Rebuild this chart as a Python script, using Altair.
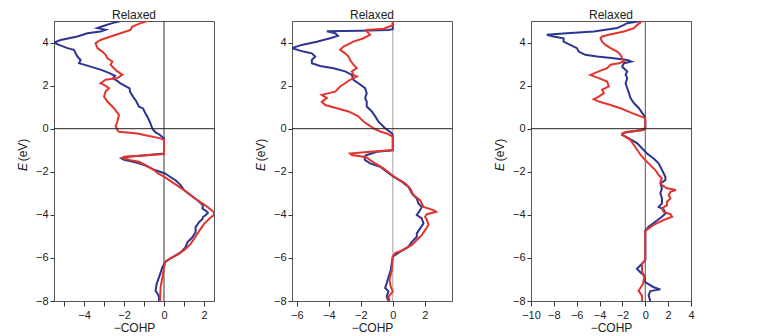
import altair as alt
import pandas as pd

# ---------------- data ----------------
# Panel 1
p1_blue_E = [5.0, 4.9, 4.78, 4.67, 4.59, 4.51, 4.43, 4.28, 4.12, 4.0, 3.89, 3.74, 3.66, 3.5, 3.35, 3.19, 3.04,
             2.88, 2.72, 2.57, 2.45, 2.34, 2.2, 2.11, 1.87, 1.72, 1.49, 1.3, 1.02, 0.94, 0.75, 0.56, 0.3, 0.1, 0.0,
             -0.15, -0.29, -0.45, -0.8, -1.15, -1.22, -1.3, -1.38, -1.45, -1.52, -1.6, -1.7, -1.92, -2.08, -2.23,
             -2.39, -2.62, -2.85, -3.1, -3.32, -3.55, -3.71, -3.8, -3.9, -4.0, -4.1, -4.19, -4.34, -4.57, -4.81,
             -5.04, -5.27, -5.5, -5.74, -5.97, -6.17, -6.43, -6.9, -7.21, -7.52, -7.7, -7.83, -8.0]
p1_blue_v = [-2.17, -2.58, -3.0, -3.33, -2.92, -3.17, -3.83, -4.33, -5.17, -5.5, -5.25, -4.83, -4.5, -4.42, -4.33,
             -4.17, -4.25, -3.67, -3.1, -2.7, -2.45, -2.55, -2.3, -2.2, -1.72, -1.7, -1.55, -1.4, -1.25, -1.05,
             -0.95, -0.83, -0.7, -0.62, -0.58, -0.45, -0.2, 0.0, 0.0, 0.0, -0.8, -1.8, -2.13, -2.0, -1.6, -1.3,
             -0.95, -0.45, 0.05, 0.3, 0.58, 0.83, 1.0, 1.35, 1.67, 1.95, 1.92, 2.08, 2.2, 2.1, 1.95, 1.92, 1.75,
             1.58, 1.58, 1.42, 1.17, 1.08, 0.83, 0.42, 0.08, -0.08, -0.25, -0.37, -0.42, -0.3, -0.25, -0.25]
p1_red_E = [5.0, 4.9, 4.74, 4.59, 4.43, 4.28, 4.12, 3.97, 3.74, 3.58, 3.43, 3.27, 3.12, 2.97, 2.81, 2.66, 2.5,
            2.35, 2.27, 2.11, 2.04, 1.88, 1.72, 1.49, 1.26, 0.95, 0.64, 0.33, 0.1, -0.06, -0.14, -0.22, -0.29,
            -0.45, -0.53, -0.9, -1.18, -1.24, -1.3, -1.35, -1.46, -1.53, -1.69, -1.92, -2.08, -2.23, -2.54, -2.85,
            -3.32, -3.63, -3.88, -4.0, -4.19, -4.42, -4.65, -4.88, -5.12, -5.35, -5.58, -5.81, -6.05, -6.17,
            -6.43, -6.9, -7.36, -8.0]
p1_red_v = [-0.83, -1.17, -1.58, -1.67, -2.17, -2.67, -3.17, -3.42, -3.33, -3.08, -2.92, -2.83, -2.58, -2.67,
            -2.5, -2.33, -2.08, -2.33, -2.92, -3.17, -3.0, -2.75, -2.92, -3.0, -2.83, -2.5, -2.25, -2.33, -2.42,
            -2.33, -2.25, -1.33, -1.0, -0.17, 0.0, 0.0, 0.0, -1.0, -2.0, -2.08, -1.67, -1.25, -0.92, -0.5, -0.3,
            0.0, 0.5, 1.0, 1.67, 2.17, 2.5, 2.5, 2.25, 2.0, 1.83, 1.67, 1.5, 1.33, 1.08, 0.75, 0.25, 0.08, 0.0,
            -0.08, -0.17, -0.2]

# Panel 2
p2_blue_E = [5.0, 4.62, 4.58, 4.55, 4.52, 4.43, 4.31, 4.2, 4.04, 3.89, 3.74, 3.58, 3.5, 3.35, 3.19, 3.04, 2.91,
             2.81, 2.66, 2.5, 2.27, 2.11, 1.88, 1.65, 1.42, 1.26, 1.03, 0.8, 0.57, 0.33, 0.02, -0.21, -0.3, -1.0,
             -1.07, -1.22, -1.3, -1.46, -1.61, -1.77, -2.0, -2.23, -2.46, -2.7, -3.0, -3.24, -3.47, -3.63, -3.78,
             -4.01, -4.16, -4.39, -4.63, -4.86, -5.02, -5.25, -5.48, -5.71, -5.94, -6.56, -7.17, -7.4, -7.55,
             -7.8, -8.0]
p2_blue_v = [0.0, 0.0, -0.3, -2.0, -4.12, -3.6, -3.43, -3.92, -4.75, -5.69, -6.3, -5.58, -5.06, -4.85, -5.06,
             -5.06, -4.54, -3.71, -2.98, -2.56, -2.46, -2.15, -1.73, -1.63, -1.73, -1.63, -1.63, -1.31, -1.1, -0.9,
             -0.48, -0.06, 0.0, 0.0, -1.0, -1.63, -1.79, -1.73, -1.42, -0.79, -0.38, 0.04, 0.56, 0.98, 1.19, 1.5,
             1.6, 1.81, 1.71, 1.5, 1.81, 1.92, 1.71, 1.5, 1.5, 1.19, 0.98, 0.46, 0.0, -0.13, -0.38, -0.48, -0.27,
             -0.38, -0.27]
p2_red_E = [5.0, 4.8, 4.64, 4.59, 4.52, 4.36, 4.2, 4.04, 3.81, 3.66, 3.5, 3.35, 3.19, 2.97, 2.81, 2.66, 2.5, 2.42,
            2.27, 2.11, 1.96, 1.72, 1.57, 1.42, 1.26, 1.1, 0.95, 0.8, 0.57, 0.33, 0.18, 0.02, -0.13, -0.22, -0.37,
            -0.99, -1.07, -1.15, -1.22, -1.3, -1.35, -1.46, -1.61, -1.84, -2.08, -2.31, -2.54, -2.77, -3.08, -3.32,
            -3.63, -3.78, -3.86, -3.97, -4.09, -4.24, -4.47, -4.71, -4.94, -5.17, -5.4, -5.63, -5.78, -5.94,
            -6.56, -7.02, -7.33, -7.56, -7.8, -8.0]
p2_red_v = [0.0, 0.0, -0.58, -1.63, -1.63, -1.42, -1.83, -2.46, -3.08, -3.29, -2.98, -2.77, -2.67, -2.46, -2.25,
            -2.56, -2.46, -2.25, -2.67, -2.98, -3.29, -3.6, -4.44, -4.12, -4.44, -4.23, -3.5, -2.77, -2.15, -1.83,
            -1.52, -1.21, -0.79, -0.38, 0.0, 0.0, -1.42, -2.67, -2.56, -1.83, -1.6, -1.42, -1.1, -0.58, -0.17,
            0.25, 0.77, 1.08, 1.29, 1.71, 1.92, 2.54, 2.71, 2.13, 2.02, 2.13, 2.23, 2.02, 1.81, 1.5, 1.19, 0.67,
            0.15, 0.0, -0.06, -0.21, -0.13, 0.0, -0.27, -0.2]

# Panel 3
p3_blue_E = [5.0, 4.9, 4.82, 4.67, 4.51, 4.43, 4.36, 4.28, 4.2, 4.04, 3.89, 3.74, 3.58, 3.43, 3.35, 3.27, 3.19,
             3.12, 3.04, 2.88, 2.66, 2.5, 2.35, 2.11, 1.88, 1.65, 1.42, 1.19, 0.95, 0.72, 0.57, 0.3, 0.05, -0.06,
             -0.19, -0.29, -0.45, -0.68, -0.91, -1.15, -1.38, -1.61, -1.92, -2.23, -2.39, -2.54, -2.77, -3.0,
             -3.24, -3.47, -3.63, -3.75, -3.94, -4.09, -4.32, -4.55, -4.73, -6.1, -6.27, -6.5, -6.66, -6.81,
             -7.12, -7.36, -7.46, -7.54, -7.74, -8.0]
p3_blue_v = [-0.4, -1.58, -1.87, -2.46, -4.5, -6.86, -8.62, -8.03, -7.15, -7.15, -6.57, -5.98, -5.83, -5.25,
             -4.22, -2.75, -1.58, -1.22, -1.87, -2.02, -1.58, -1.72, -1.58, -1.72, -1.58, -1.43, -1.29, -1.0,
             -0.56, -0.26, -0.05, 0.0, 0.0, -0.29, -1.87, -2.02, -1.43, -0.7, -0.29, 0.15, 0.73, 1.17, 1.46, 1.76,
             1.76, 1.32, 1.46, 1.32, 1.46, 1.46, 1.17, 1.61, 1.76, 1.46, 0.88, 0.29, 0.0, 0.0, -0.29, -0.73,
             -0.44, -0.09, 0.0, 0.73, 1.32, 0.44, 0.29, 0.44]
p3_red_E = [5.0, 4.82, 4.67, 4.51, 4.36, 4.28, 4.2, 4.04, 3.89, 3.74, 3.58, 3.43, 3.27, 3.12, 3.04, 2.97, 2.81,
            2.66, 2.5, 2.35, 2.19, 1.96, 1.81, 1.65, 1.49, 1.37, 1.26, 1.1, 0.95, 0.72, 0.57, 0.49, 0.0, -0.06,
            -0.14, -0.22, -0.34, -0.53, -0.76, -0.99, -1.22, -1.46, -1.69, -1.92, -2.15, -2.31, -2.46, -2.62,
            -2.77, -2.85, -2.93, -3.08, -3.24, -3.39, -3.55, -3.7, -3.86, -3.97, -4.09, -4.24, -4.47, -4.71,
            -4.78, -6.1, -6.27, -6.59, -6.9, -7.21, -7.52, -7.76, -8.0]
p3_red_v = [-0.26, -0.7, -0.99, -1.87, -3.19, -3.78, -3.92, -3.78, -3.48, -3.04, -2.46, -2.17, -2.02, -1.87,
            -2.31, -3.04, -3.34, -4.07, -4.8, -4.07, -3.34, -3.19, -3.78, -3.63, -4.07, -4.51, -4.07, -3.04,
            -2.17, -1.14, -0.41, 0.0, 0.0, -0.15, -1.58, -2.02, -1.87, -1.29, -1.0, -0.7, -0.41, 0.0, 0.44, 0.88,
            1.17, 1.46, 1.32, 1.46, 1.9, 2.68, 2.2, 2.05, 2.2, 1.9, 1.9, 1.46, 1.61, 2.2, 2.35, 1.61, 0.73, 0.09,
            0.0, 0.0, -0.29, -0.29, -0.09, -0.2, -0.59, -0.29, -0.29]

panel_title = "Relaxed"
x_title = "\u2212COHP"
y_title_var = "E"
y_title_unit = "(eV)"
y_ticks = [-8, -6, -4, -2, 0, 2, 4]
p1_xdomain = [-5.5, 2.5]
p1_xticks = [-5, -4, -3, -2, -1, 0, 1, 2]
p2_xdomain = [-6.3, 3.7]
p2_xticks = [-6, -4, -2, 0, 2]
p3_xdomain = [-10, 4]
p3_xticks = [-10, -8, -6, -4, -2, 0, 2, 4]

BLUE = "#2d3590"
RED = "#e3342f"
FONT = "Liberation Sans, Arial, sans-serif"
FS = 11


def label_text(txt, x, y, angle=0, style="normal"):
    return alt.Chart(pd.DataFrame({"t": [txt]})).mark_text(
        font=FONT, fontSize=FS + 1, color="#222", baseline="middle", align="center",
        angle=angle, fontStyle=style
    ).encode(text="t:N", x=alt.value(x), y=alt.value(y))


def panel(bE, bv, rE, rv, xdomain, xticks, zero_color, hide_odd=False):
    dfb = pd.DataFrame({"E": bE, "v": bv, "i": range(len(bE))})
    dfr = pd.DataFrame({"E": rE, "v": rv, "i": range(len(rE))})
    xscale = alt.Scale(domain=xdomain, nice=False, zero=False)
    yscale = alt.Scale(domain=[-8, 5], nice=False, zero=False)
    label_expr = "abs(datum.value) % 2 == 1 ? '' : replace(datum.label, '-', '\u2212')" if hide_odd \
        else "replace(datum.label, '-', '\u2212')"
    xaxis = alt.Axis(values=xticks, title=x_title, labelExpr=label_expr, grid=False, labelOverlap=False,
                     labelFlush=False)
    yaxis = alt.Axis(values=y_ticks, title=None, grid=False, labelOverlap=False, labelFlush=False,
                     labelExpr="replace(datum.label, '-', '\u2212')")
    X = alt.X("v:Q", scale=xscale, axis=xaxis)
    Y = alt.Y("E:Q", scale=yscale, axis=yaxis)
    vrule = alt.Chart(pd.DataFrame({"v": [0]})).mark_rule(color=zero_color, strokeWidth=1).encode(x=X)
    blue = alt.Chart(dfb).mark_line(color=BLUE, strokeWidth=2, clip=True).encode(x=X, y=Y, order="i:Q")
    red = alt.Chart(dfr).mark_line(color=RED, strokeWidth=2, clip=True).encode(x=X, y=Y, order="i:Q")
    hrule = alt.Chart(pd.DataFrame({"E": [0]})).mark_rule(color="#222222", strokeWidth=1).encode(y=Y)
    title = alt.Chart(pd.DataFrame({"t": [panel_title]})).mark_text(
        font=FONT, fontSize=FS + 1, color="#222", baseline="alphabetic", align="center"
    ).encode(text="t:N", x=alt.value(80), y=alt.value(-2))
    ylab_e = label_text(y_title_var, -31, 146, angle=270, style="italic")
    ylab_u = label_text(y_title_unit, -31, 129, angle=270)
    return alt.layer(vrule, blue, red, hrule, title, ylab_e, ylab_u).properties(width=160, height=280)


c1 = panel(p1_blue_E, p1_blue_v, p1_red_E, p1_red_v, p1_xdomain, p1_xticks, "#333333", hide_odd=True)
c2 = panel(p2_blue_E, p2_blue_v, p2_red_E, p2_red_v, p2_xdomain, p2_xticks, "#a0a0a0")
c3 = panel(p3_blue_E, p3_blue_v, p3_red_E, p3_red_v, p3_xdomain, p3_xticks, "#555555")

chart = alt.hconcat(alt.hconcat(c1, c2, spacing=39), c3, spacing=40).properties(
    padding={"left": 8, "top": 0, "right": 5, "bottom": 0}
).configure_view(stroke="#555555", strokeWidth=1).configure_axis(
    labelFont=FONT, titleFont=FONT, labelFontSize=FS, titleFontSize=FS + 1, titleFontWeight="normal",
    labelColor="#222", titleColor="#222", tickColor="#333", domainColor="#555", tickSize=4,
    labelPadding=2, titlePadding=6, labelOverlap=False, labelFlush=False
).configure_axisX(tickSize=5, labelPadding=3, titlePadding=2)

chart.save("out.html", embed_options={"renderer": "svg", "actions": False})
